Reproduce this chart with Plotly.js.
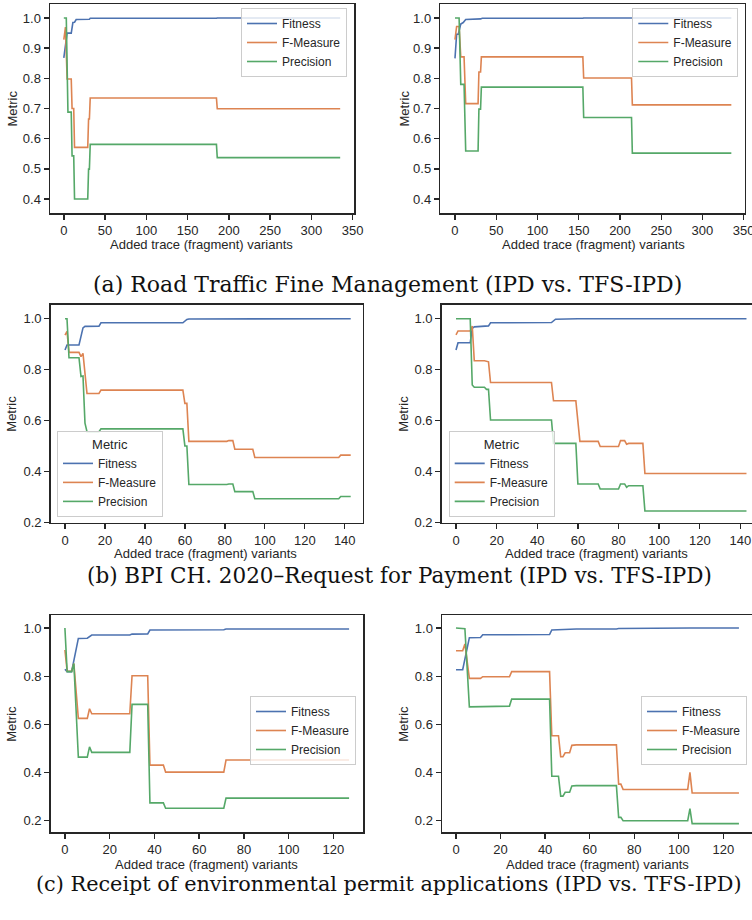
<!DOCTYPE html>
<html>
<head>
<meta charset="utf-8">
<script src="https://cdn.plot.ly/plotly-3.0.1.min.js"></script>
<style>
html, body { margin: 0; padding: 0; overflow: hidden; background: #ffffff; width: 752px; height: 920px; }
#chart { width: 770px; height: 920px; }
</style>
</head>
<body>
<div id="chart"></div>
<script>
// ---------------- DATA ----------------
const seriesNames = ['Fitness', 'F-Measure', 'Precision'];
const seriesColors = ['#4C72B0', '#DD8452', '#55A868'];
const xAxisTitle = 'Added trace (fragment) variants';
const yAxisTitle = 'Metric';
const captions = [
  '(a) Road Traffic Fine Management (IPD vs. TFS-IPD)',
  '(b) BPI CH. 2020\u2013Request for Payment (IPD vs. TFS-IPD)',
  '(c) Receipt of environmental permit applications (IPD vs. TFS-IPD)'
];

// (a) Road Traffic Fine Management - IPD
const roadIpdFitX = [0, 4, 9, 11, 13, 15, 31, 32, 185, 186, 335];
const roadIpdFitY = [0.868, 0.950, 0.950, 0.985, 0.986, 0.995, 0.996, 0.999, 0.999, 1.0, 1.0];
const roadIpdFmX = [0, 2, 4, 9, 10, 12, 13, 29, 30, 31, 32, 185, 186, 335];
const roadIpdFmY = [0.928, 0.970, 0.798, 0.798, 0.700, 0.700, 0.571, 0.571, 0.665, 0.665, 0.735, 0.735, 0.699, 0.699];
const roadIpdPrX = [0, 3, 5, 9, 10, 12, 13, 29, 30, 31, 32, 185, 186, 335];
const roadIpdPrY = [1.0, 1.0, 0.688, 0.688, 0.543, 0.543, 0.400, 0.400, 0.499, 0.499, 0.581, 0.581, 0.537, 0.537];

// (a) Road Traffic Fine Management - TFS-IPD
const roadTfsFitX = [0, 2, 4, 7, 10, 13, 31, 33, 155, 156, 335];
const roadTfsFitY = [0.866, 0.946, 0.946, 0.980, 0.985, 0.995, 0.997, 0.999, 0.999, 1.0, 1.0];
const roadTfsFmX = [0, 2, 5, 7, 11, 13, 28, 29, 31, 32, 155, 156, 214, 215, 335];
const roadTfsFmY = [0.928, 0.972, 0.972, 0.871, 0.871, 0.716, 0.716, 0.821, 0.821, 0.871, 0.871, 0.801, 0.801, 0.712, 0.712];
const roadTfsPrX = [0, 5, 7, 11, 13, 28, 29, 31, 32, 155, 156, 214, 215, 335];
const roadTfsPrY = [1.0, 1.0, 0.780, 0.780, 0.559, 0.559, 0.698, 0.698, 0.771, 0.771, 0.670, 0.670, 0.552, 0.552];

// (b) BPI CH. 2020 - IPD
const bpiIpdFitX = [0, 1, 7, 9, 10, 17, 18, 59, 61, 62, 143];
const bpiIpdFitY = [0.877, 0.897, 0.897, 0.964, 0.970, 0.971, 0.984, 0.984, 0.997, 0.999, 1.0];
const bpiIpdFmX = [0, 1, 2, 7, 8, 9, 11, 17, 18, 59, 60, 61, 62, 81, 82, 84, 85, 94, 95, 137, 138, 143];
const bpiIpdFmY = [0.936, 0.950, 0.868, 0.868, 0.851, 0.864, 0.707, 0.707, 0.720, 0.720, 0.668, 0.668, 0.519, 0.519, 0.522, 0.522, 0.488, 0.488, 0.456, 0.456, 0.465, 0.465];
const bpiIpdPrX = [0, 1, 2, 7, 8, 9, 10, 11, 17, 18, 59, 60, 61, 62, 81, 82, 84, 85, 94, 95, 137, 138, 143];
const bpiIpdPrY = [1.0, 1.0, 0.847, 0.847, 0.773, 0.775, 0.590, 0.557, 0.557, 0.568, 0.568, 0.501, 0.501, 0.350, 0.350, 0.352, 0.352, 0.322, 0.322, 0.294, 0.294, 0.303, 0.303];

// (b) BPI CH. 2020 - TFS-IPD
const bpiTfsFitX = [0, 1, 7, 8, 9, 14, 16, 17, 47, 49, 60, 143];
const bpiTfsFitY = [0.877, 0.906, 0.906, 0.962, 0.968, 0.969, 0.972, 0.984, 0.985, 0.998, 1.0, 1.0];
const bpiTfsFmX = [0, 1, 7, 8, 9, 14, 16, 17, 47, 48, 59, 61, 70, 71, 80, 81, 83, 84, 85, 92, 93, 143];
const bpiTfsFmY = [0.937, 0.952, 0.952, 0.971, 0.835, 0.835, 0.831, 0.750, 0.750, 0.678, 0.678, 0.519, 0.519, 0.499, 0.499, 0.522, 0.522, 0.508, 0.511, 0.511, 0.393, 0.393];
const bpiTfsPrX = [0, 7, 8, 9, 14, 15, 16, 17, 47, 48, 59, 60, 70, 71, 80, 81, 83, 84, 85, 92, 93, 143];
const bpiTfsPrY = [1.0, 1.0, 0.740, 0.731, 0.731, 0.723, 0.723, 0.603, 0.603, 0.511, 0.511, 0.352, 0.352, 0.332, 0.332, 0.352, 0.352, 0.339, 0.345, 0.345, 0.246, 0.246];

// (c) Receipt of environmental permit applications - IPD
const permitIpdFitX = [0, 1, 3, 6, 10, 12, 29, 30, 37, 38, 71, 72, 127];
const permitIpdFitY = [0.829, 0.819, 0.819, 0.957, 0.958, 0.971, 0.971, 0.975, 0.976, 0.992, 0.993, 0.996, 0.996];
const permitIpdFmX = [0, 1, 3, 4, 6, 10, 11, 12, 29, 30, 37, 38, 44, 45, 71, 72, 127];
const permitIpdFmY = [0.909, 0.821, 0.821, 0.853, 0.625, 0.625, 0.665, 0.644, 0.644, 0.802, 0.802, 0.431, 0.431, 0.402, 0.402, 0.452, 0.452];
const permitIpdPrX = [0, 1, 3, 4, 6, 10, 11, 12, 29, 30, 37, 38, 44, 45, 71, 72, 127];
const permitIpdPrY = [1.0, 0.819, 0.819, 0.853, 0.464, 0.464, 0.507, 0.484, 0.484, 0.683, 0.683, 0.274, 0.274, 0.252, 0.252, 0.294, 0.294];

// (c) Receipt of environmental permit applications - TFS-IPD
const permitTfsFitX = [0, 3, 6, 11, 12, 42, 43, 52, 54, 72, 73, 105, 127];
const permitTfsFitY = [0.827, 0.827, 0.960, 0.961, 0.972, 0.973, 0.992, 0.994, 0.996, 0.996, 0.998, 1.0, 1.0];
const permitTfsFmX = [0, 3, 4, 6, 11, 12, 24, 25, 42, 43, 46, 47, 48, 49, 51, 52, 54, 72, 73, 74, 75, 104, 105, 106, 127];
const permitTfsFmY = [0.906, 0.906, 0.934, 0.791, 0.791, 0.798, 0.798, 0.819, 0.819, 0.553, 0.553, 0.466, 0.466, 0.482, 0.482, 0.513, 0.515, 0.515, 0.352, 0.352, 0.330, 0.330, 0.401, 0.315, 0.315];
const permitTfsPrX = [0, 4, 6, 11, 12, 24, 25, 42, 43, 46, 47, 48, 49, 51, 52, 54, 72, 73, 74, 75, 104, 105, 106, 127];
const permitTfsPrY = [1.0, 0.997, 0.673, 0.673, 0.676, 0.676, 0.705, 0.705, 0.385, 0.385, 0.302, 0.302, 0.318, 0.318, 0.344, 0.346, 0.346, 0.214, 0.214, 0.200, 0.200, 0.250, 0.188, 0.188];

// tick labels
const roadTicksX = [0, 50, 100, 150, 200, 250, 300, 350];
const bpiTicksX = [0, 20, 40, 60, 80, 100, 120, 140];
const permitTicksX = [0, 20, 40, 60, 80, 100, 120];
const roadTicksY = [0.4, 0.5, 0.6, 0.7, 0.8, 0.9, 1.0];
const lowerTicksY = [0.2, 0.4, 0.6, 0.8, 1.0];

// ---------------- LAYOUT HELPERS ----------------
const W = 770, H = 920;
const FONT = 'Liberation Sans, Arial, Helvetica, sans-serif';
const INK = '#262626';
const px = v => v / W;
const py = v => 1 - v / H;

const panels = [
  { data: [[roadIpdFitX, roadIpdFitY], [roadIpdFmX, roadIpdFmY], [roadIpdPrX, roadIpdPrY]],
    box: [50, 354, 4, 213], xr: [-16.75, 351.75], yr: [0.3536, 1.0464], xt: roadTicksX, yt: roadTicksY,
    legend: { x: 347, y: 8, xa: 'right', ya: 'top', title: false } },
  { data: [[roadTfsFitX, roadTfsFitY], [roadTfsFmX, roadTfsFmY], [roadTfsPrX, roadTfsPrY]],
    box: [440.3, 744.7, 4, 213], xr: [-17.8, 351.2], yr: [0.3536, 1.0464], xt: roadTicksX, yt: roadTicksY,
    legend: { x: 738.3, y: 8, xa: 'right', ya: 'top', title: false } },
  { data: [[bpiIpdFitX, bpiIpdFitY], [bpiIpdFmX, bpiIpdFmY], [bpiIpdPrX, bpiIpdPrY]],
    box: [50.7, 362.7, 304.7, 522.7], xr: [-7.16, 149.0], yr: [0.2, 1.055], xt: bpiTicksX, yt: lowerTicksY,
    legend: { x: 57, y: 517, xa: 'left', ya: 'bottom', title: true } },
  { data: [[bpiTfsFitX, bpiTfsFitY], [bpiTfsFmX, bpiTfsFmY], [bpiTfsPrX, bpiTfsPrY]],
    box: [441.7, 761, 304.7, 522.7], xr: [-7.04, 150.15], yr: [0.2, 1.055], xt: bpiTicksX, yt: lowerTicksY,
    legend: { x: 448.7, y: 517, xa: 'left', ya: 'bottom', title: true } },
  { data: [[permitIpdFitX, permitIpdFitY], [permitIpdFmX, permitIpdFmY], [permitIpdPrX, permitIpdPrY]],
    box: [50.7, 363.3, 615.3, 832.3], xr: [-6.35, 133.35], yr: [0.152, 1.053], xt: permitTicksX, yt: lowerTicksY,
    legend: { x: 356, y: 696, xa: 'right', ya: 'top', title: false } },
  { data: [[permitTfsFitX, permitTfsFitY], [permitTfsFmX, permitTfsFmY], [permitTfsPrX, permitTfsPrY]],
    box: [442, 753.1, 615.3, 832.3], xr: [-6.28, 133.35], yr: [0.152, 1.053], xt: permitTicksX, yt: lowerTicksY,
    legend: { x: 747, y: 696, xa: 'right', ya: 'top', title: false } }
];

const xTitleY = [245, 245, 553, 553, 864, 864];
const xTitleX = [202, 593, 206, 596, 207, 597];
const yTitleX = [12, 404, 12, 404, 12, 404];
const captionY = [285, 575, 884];
const captionX = [387, 400, 389];
const captionSize = [22, 21.5, 20.8];

const traces = [];
const layout = {
  width: W, height: H,
  margin: { l: 0, r: 0, t: 0, b: 0 },
  paper_bgcolor: '#ffffff', plot_bgcolor: '#ffffff',
  font: { family: FONT, size: 12, color: INK },
  showlegend: true,
  annotations: []
};

panels.forEach((p, i) => {
  const n = i + 1;
  const xa = n === 1 ? 'xaxis' : 'xaxis' + n;
  const ya = n === 1 ? 'yaxis' : 'yaxis' + n;
  const xs = n === 1 ? 'x' : 'x' + n;
  const ys = n === 1 ? 'y' : 'y' + n;
  const lg = n === 1 ? 'legend' : 'legend' + n;
  const axisCommon = {
    showline: true, mirror: true, linecolor: INK, linewidth: 1.5,
    ticks: 'outside', ticklen: 5, tickwidth: 1.4, tickcolor: INK,
    showgrid: false, zeroline: false, fixedrange: true,
    tickfont: { family: FONT, size: 13, color: INK }
  };
  layout[xa] = Object.assign({}, axisCommon, {
    domain: [px(p.box[0]), px(p.box[1])], range: p.xr, anchor: ys,
    tickmode: 'array', tickvals: p.xt, ticktext: p.xt.map(String)
  });
  layout[ya] = Object.assign({}, axisCommon, {
    domain: [py(p.box[3]), py(p.box[2])], range: p.yr, anchor: xs,
    tickmode: 'array', tickvals: p.yt, ticktext: p.yt.map(v => v.toFixed(1))
  });
  const L = p.legend;
  layout[lg] = {
    x: px(L.x), y: py(L.y), xanchor: L.xa, yanchor: L.ya,
    xref: 'paper', yref: 'paper',
    bgcolor: 'rgba(255,255,255,0.8)', bordercolor: '#cccccc', borderwidth: 1,
    font: { family: FONT, size: 12, color: INK },
    tracegroupgap: 0
  };
  if (L.title) {
    layout[lg].title = { text: yAxisTitle, side: 'top center', font: { family: FONT, size: 13, color: INK } };
  }
  p.data.forEach((d, k) => {
    traces.push({
      type: 'scatter', mode: 'lines',
      x: d[0], y: d[1], xaxis: xs, yaxis: ys,
      name: seriesNames[k], legend: lg, showlegend: true,
      line: { color: seriesColors[k], width: 1.6 },
      hoverinfo: 'skip'
    });
  });
  // axis titles
  layout.annotations.push({
    xref: 'paper', yref: 'paper',
    x: px(xTitleX[i]), y: py(xTitleY[i]),
    xanchor: 'center', yanchor: 'middle', showarrow: false,
    text: xAxisTitle, font: { family: FONT, size: 13, color: INK }
  });
  layout.annotations.push({
    xref: 'paper', yref: 'paper',
    x: px(yTitleX[i]), y: py((p.box[2] + p.box[3]) / 2),
    xanchor: 'center', yanchor: 'middle', showarrow: false, textangle: -90,
    text: yAxisTitle, font: { family: FONT, size: 13, color: INK }
  });
});

captions.forEach((c, i) => {
  layout.annotations.push({
    xref: 'paper', yref: 'paper',
    x: px(captionX[i]), y: py(captionY[i]),
    xanchor: 'center', yanchor: 'middle', showarrow: false,
    text: c, font: { family: 'DejaVu Serif, serif', size: captionSize[i], color: '#111111' }
  });
});

Plotly.newPlot('chart', traces, layout, { staticPlot: true, displayModeBar: false });
</script>
</body>
</html>
